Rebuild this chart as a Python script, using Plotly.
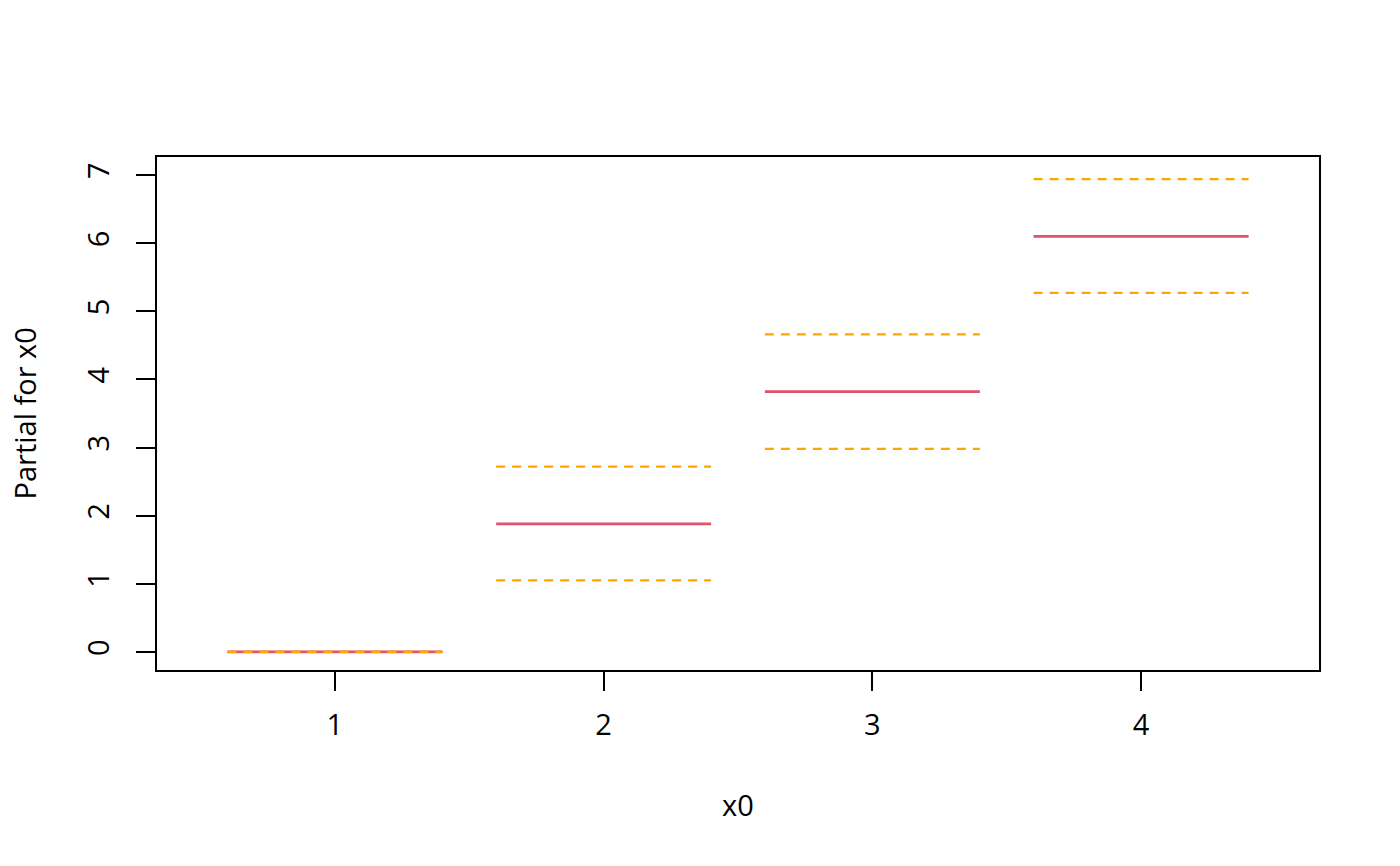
import plotly.graph_objects as go

levels = [1, 2, 3, 4]
fit = [0.0, 1.88, 3.82, 6.10]
upper = [0.0, 2.72, 4.66, 6.94]
lower = [0.0, 1.05, 2.98, 5.27]
y_ticks = [0, 1, 2, 3, 4, 5, 6, 7]
half = 0.4

def seg(vals):
    xs, ys = [], []
    for lv, v in zip(levels, vals):
        xs += [lv - half, lv + half, None]
        ys += [v, v, None]
    return xs, ys

fig = go.Figure()
x, y = seg(fit)
fig.add_trace(go.Scatter(x=x, y=y, mode="lines", line=dict(color="#DF536B", width=2.8), showlegend=False))
for vals in (upper, lower):
    x, y = seg(vals)
    fig.add_trace(go.Scatter(x=x, y=y, mode="lines",
                             line=dict(color="#FFA500", width=2.2, dash="9px,7px"), showlegend=False))

FS = 29
axis_common = dict(showline=True, linecolor="black", linewidth=1.6, mirror=True,
                   ticks="outside", ticklen=19, tickwidth=1.6, tickcolor="black",
                   showgrid=False, zeroline=False,
                   tickfont=dict(size=FS, color="black", family="Open Sans"))
fig.update_layout(
    width=1400, height=866,
    margin=dict(l=157, r=81, t=157, b=196),
    paper_bgcolor="white", plot_bgcolor="white",
    font=dict(family="Open Sans", color="black", size=FS),
    xaxis=dict(range=[0.338, 4.662], tickvals=levels, ticktext=[str(v) for v in levels],
               ticklabelstandoff=9, **axis_common),
    yaxis=dict(range=[-0.265, 7.265], tickvals=y_ticks, ticktext=[str(v) for v in y_ticks],
               tickangle=-90, ticklabelstandoff=16, **axis_common),
    annotations=[
        dict(text="x0", xref="paper", yref="paper", x=0.5, y=0, xanchor="center", yanchor="middle",
             yshift=-134, showarrow=False, font=dict(size=FS)),
        dict(text="Partial for x0", xref="paper", yref="paper", x=0, y=0.5, xanchor="center",
             yanchor="middle", xshift=-133, textangle=-90, showarrow=False, font=dict(size=FS)),
    ],
)
fig.write_html("out.html", config={"displayModeBar": False},
               post_script="document.body.style.margin='0';")
